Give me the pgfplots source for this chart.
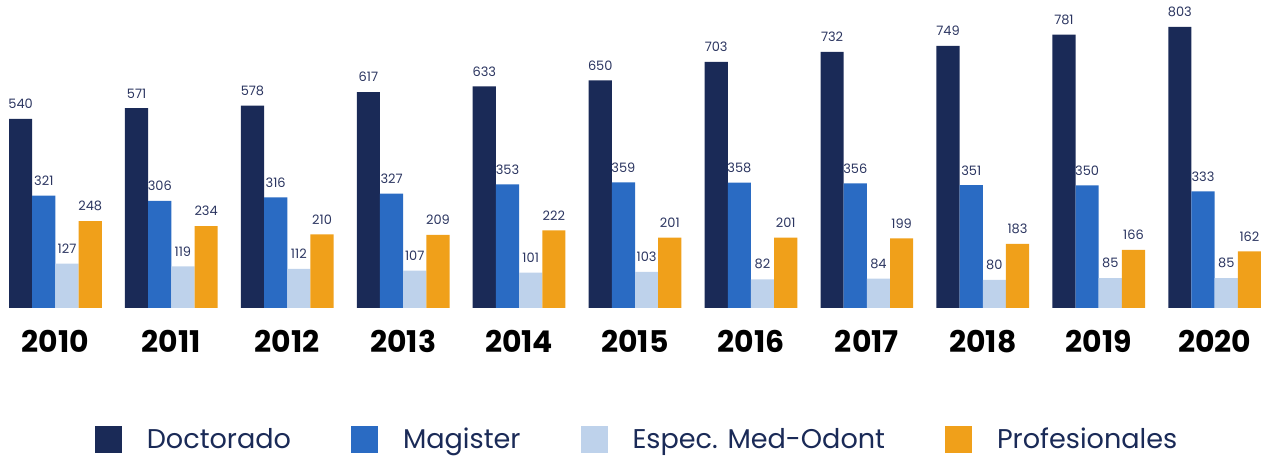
\documentclass[border=0pt]{standalone}
\usepackage{fontspec}
\setmainfont{Poppins}
\usepackage{pgfplots}
\pgfplotsset{compat=1.18}
\definecolor{cnavy}{HTML}{1A2A57}
\definecolor{cblue}{HTML}{2A6BC3}
\definecolor{clight}{HTML}{BED2EB}
\definecolor{corange}{HTML}{F0A01A}
\definecolor{ctext}{HTML}{2B3560}
\begin{document}
\begin{tikzpicture}
\begin{axis}[
  scale only axis,
  width=630.5bp, height=154bp,
  xmin=-0.478, xmax=10.4,
  ymin=0, ymax=880,
  ybar, bar width=0.2,
  axis line style={draw=none},
  ytick=\empty,
  xtick={0,...,10},
  xticklabels={2010,2011,2012,2013,2014,2015,2016,2017,2018,2019,2020},
  major tick length=0pt,
  xticklabel style={font=\bfseries\fontsize{15}{18}\selectfont, text=black, yshift=-7.5bp},
  clip=false,
  /pgf/number format/assume math mode=true,
  nodes near coords,
  every node near coord/.append style={font=\fontsize{6.5}{8}\selectfont, text=ctext, yshift=1.5bp},
  legend columns=4,
  legend style={draw=none, at={(0.506,-0.4286)}, anchor=center,
    font=\fontsize{13.6}{16.5}\selectfont, text=cnavy,
    /tikz/every even column/.append style={column sep=28bp},
    /tikz/every odd column/.append style={column sep=10.5bp}},
  legend image code/.code={\fill[#1] (0bp,-6.75bp) rectangle (13.5bp,6.75bp);},
]
\addplot[fill=cnavy, draw=none, bar shift=-0.3] coordinates {(0,540)(1,571)(2,578)(3,617)(4,633)(5,650)(6,703)(7,732)(8,749)(9,781)(10,803)};
\addplot[fill=cblue, draw=none, bar shift=-0.1] coordinates {(0,321)(1,306)(2,316)(3,327)(4,353)(5,359)(6,358)(7,356)(8,351)(9,350)(10,333)};
\addplot[fill=clight, draw=none, bar shift=0.1] coordinates {(0,127)(1,119)(2,112)(3,107)(4,101)(5,103)(6,82)(7,84)(8,80)(9,85)(10,85)};
\addplot[fill=corange, draw=none, bar shift=0.3] coordinates {(0,248)(1,234)(2,210)(3,209)(4,222)(5,201)(6,201)(7,199)(8,183)(9,166)(10,162)};
\legend{Doctorado, Magister, Espec. Med-Odont, Profesionales}
\coordinate (bl) at (rel axis cs:0,-0.4935);
\coordinate (tr) at (rel axis cs:1,1);
\end{axis}
\pgfresetboundingbox
\path[use as bounding box] (bl) rectangle (tr);
\end{tikzpicture}
\end{document}
